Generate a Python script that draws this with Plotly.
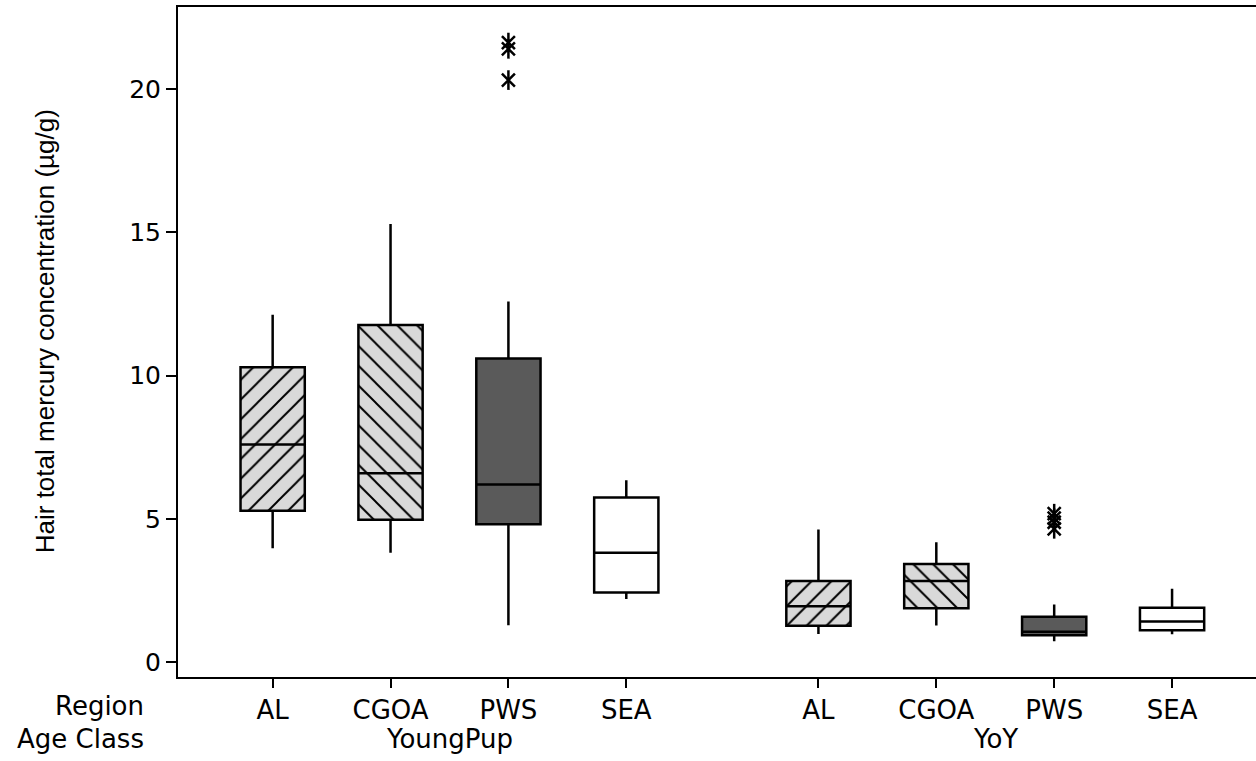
import plotly.graph_objects as go

# ---- data ----
age_classes = ["YoungPup", "YoY"]
regions = ["AL", "CGOA", "PWS", "SEA"]

# per age class, per region
q1 = {"YoungPup": [5.28, 4.97, 4.81, 2.43], "YoY": [1.27, 1.88, 0.94, 1.11]}
median = {"YoungPup": [7.59, 6.59, 6.20, 3.82], "YoY": [1.95, 2.83, 1.06, 1.42]}
q3 = {"YoungPup": [10.29, 11.76, 10.59, 5.74], "YoY": [2.83, 3.42, 1.58, 1.90]}
lowerfence = {"YoungPup": [3.97, 3.82, 1.29, 2.20], "YoY": [0.98, 1.28, 0.73, 0.97]}
upperfence = {"YoungPup": [12.12, 15.29, 12.58, 6.35], "YoY": [4.63, 4.18, 2.01, 2.56]}
outliers = {
    ("YoungPup", "PWS"): [21.62, 21.40, 20.31],
    ("YoY", "PWS"): [5.18, 5.02, 4.88, 4.65],
}

y_ticks = [0, 5, 10, 15, 20]

# ---- styles ----
FONT = "DejaVu Sans"
styles = {
    "AL": dict(fill="#d9d9d9", pattern="/"),
    "CGOA": dict(fill="#d9d9d9", pattern="\\"),
    "PWS": dict(fill="#5a5a5a", pattern=""),
    "SEA": dict(fill="#ffffff", pattern=""),
}
GROUP_GAP = 1.63   # spacing between age-class groups (in region units)
BOX_W = 0.545


def pos(gi, ri):
    return 1 + gi * (len(regions) - 1 + GROUP_GAP) + ri


fig = go.Figure()

# hatched fills (bars spanning q1..q3)
for gi, ac in enumerate(age_classes):
    for ri, rg in enumerate(regions):
        st = styles[rg]
        if st["pattern"]:
            fig.add_trace(go.Bar(
                x=[pos(gi, ri)], y=[q3[ac][ri] - q1[ac][ri]], base=[q1[ac][ri]],
                width=BOX_W,
                marker=dict(color=st["fill"], line=dict(width=0),
                            pattern=dict(shape=st["pattern"], fgcolor="black",
                                         fgopacity=1, bgcolor=st["fill"], size=14,
                                         solidity=0.14, fillmode="overlay")),
                showlegend=False, hoverinfo="skip"))

# box outlines, medians, whiskers
for gi, ac in enumerate(age_classes):
    for ri, rg in enumerate(regions):
        st = styles[rg]
        fill = "rgba(0,0,0,0)" if st["pattern"] else st["fill"]
        fig.add_trace(go.Box(
            x=[pos(gi, ri)], q1=[q1[ac][ri]], median=[median[ac][ri]],
            q3=[q3[ac][ri]], lowerfence=[lowerfence[ac][ri]],
            upperfence=[upperfence[ac][ri]],
            width=BOX_W, whiskerwidth=0,
            fillcolor=fill, line=dict(color="black", width=2.5),
            showlegend=False, boxpoints=False))

# outliers (six-armed asterisk = x + vertical line)
for (ac, rg), vals in outliers.items():
    xv = [pos(age_classes.index(ac), regions.index(rg))] * len(vals)
    for sym in ["x-thin-open", "line-ns-open"]:
        fig.add_trace(go.Scatter(
            x=xv, y=vals, mode="markers",
            marker=dict(symbol=sym, size=14 if sym == "line-ns-open" else 13,
                        line=dict(color="black", width=2.5), color="black"),
            showlegend=False, hoverinfo="skip"))

tickvals = [pos(gi, ri) for gi in range(len(age_classes)) for ri in range(len(regions))]
ticktext = [rg for _ in age_classes for rg in regions]

x_left = 0.197
x_right = pos(len(age_classes) - 1, len(regions) - 1) + 0.712

fig.update_layout(
    width=1256, height=761,
    margin=dict(l=178, r=0, t=7, b=84),
    paper_bgcolor="white", plot_bgcolor="white",
    barmode="overlay",
    font=dict(family=FONT, size=26, color="black"),
    xaxis=dict(range=[x_left, x_right], tickvals=tickvals, ticktext=ticktext,
               showline=True, linecolor="black", linewidth=2, mirror=True,
               ticks="outside", ticklen=9, tickwidth=1.5, tickcolor="black",
               showgrid=False, zeroline=False,
               tickfont=dict(family=FONT, size=26, color="black")),
    yaxis=dict(range=[-0.52, 22.86], tickvals=y_ticks,
               showline=True, linecolor="black", linewidth=2,
               ticks="outside", ticklen=10, tickwidth=1.5, tickcolor="black",
               showgrid=False, zeroline=False,
               tickfont=dict(family=FONT, size=25, color="black")),
)

annos = [
    dict(text="Region", x=-0.030, y=-0.043, xanchor="right", yanchor="middle"),
    dict(text="Age Class", x=-0.030, y=-0.093, xanchor="right", yanchor="middle"),
]
for a in annos:
    fig.add_annotation(xref="paper", yref="paper", showarrow=False,
                       font=dict(family=FONT, size=26, color="black"), **a)

for gi, ac in enumerate(age_classes):
    center = (pos(gi, 0) + pos(gi, len(regions) - 1)) / 2
    fig.add_annotation(xref="x", yref="paper", x=center, y=-0.093,
                       text=ac, showarrow=False, xanchor="center", yanchor="middle",
                       font=dict(family=FONT, size=26, color="black"))

fig.add_annotation(xref="paper", yref="paper", x=-0.1234, y=0.516,
                   text="Hair total mercury concentration (µg/g)", textangle=-90,
                   showarrow=False, xanchor="center", yanchor="middle",
                   font=dict(family="Liberation Sans", size=26, color="black"))

fig.write_html("out.html")
